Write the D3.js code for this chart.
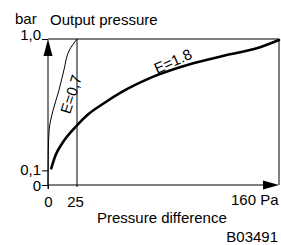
<!DOCTYPE html>
<html>
<head>
<meta charset="utf-8">
<script src="https://cdn.jsdelivr.net/npm/d3@7"></script>
<style>
    body { margin: 0; background: #fff; }
    svg { display: block; font-family: "Liberation Sans", Arial, sans-serif; }
    text { fill: #000; }
</style>
</head>
<body>
<svg id="chart" width="281" height="245"></svg>
<script>
// Values (x in Pa, y in bar)
const xTicks = [0, 25, 160];
const xTickLabels = ["0", "25", "160 Pa"];
const yTicks = [0, 0.1, 1.0];
const yTickLabels = ["0", "0,1", "1,0"];

const curveLowX = [0, 0.3, 1.0, 4.3, 9.5, 13.8, 18.5, 25];
const curveLowY = [0, 0.24, 0.38, 0.51, 0.65, 0.79, 0.925, 1.0];

const curveHighX = [2.8, 6.6, 12.3, 23.9, 31.9, 43.0, 55.3, 76.0, 102.7, 125.0, 145.1, 160];
const curveHighY = [0.114, 0.205, 0.286, 0.399, 0.479, 0.560, 0.639, 0.742, 0.834, 0.890, 0.936, 0.993];

(function() {
    const svg = d3.select("#chart");

    // the x axis is drawn schematically, not to scale
    const x = d3.scaleLinear().domain([0, 25, 160]).range([48, 77, 279]);
    const y = d3.scaleLinear().domain([0, 1]).range([185, 39]);

    const g = svg.append("g")
        .attr("stroke", "#000")
        .attr("fill", "none");

    // frame: top line, right line, 25 Pa line
    g.append("line")
        .attr("x1", x(0)).attr("x2", x(160))
        .attr("y1", y(1)).attr("y2", y(1));
    g.append("line")
        .attr("x1", x(160)).attr("x2", x(160))
        .attr("y1", y(1)).attr("y2", y(0));
    g.append("line")
        .attr("x1", x(25)).attr("x2", x(25))
        .attr("y1", y(1)).attr("y2", y(0) + 2);

    // axes with arrows
    g.append("line")
        .attr("x1", x(0)).attr("x2", x(0))
        .attr("y1", y(0) + 4).attr("y2", y(1) + 10);
    g.append("line")
        .attr("x1", x(0)).attr("x2", x(160) - 10)
        .attr("y1", y(0)).attr("y2", y(0));

    svg.append("path")
        .attr("fill", "#000")
        .attr("d", "M" + x(0) + "," + y(1) + "l-4.5,17h9z");
    svg.append("path")
        .attr("fill", "#000")
        .attr("d", "M" + x(160) + "," + y(0) + "l-16,-4.5v9z");

    // y ticks
    const yAxis = svg.append("g")
        .attr("transform", "translate(" + x(0) + ",0)")
        .call(d3.axisLeft(y)
            .tickValues(yTicks)
            .tickSize(6)
            .tickPadding(1)
            .tickFormat((d, i) => yTickLabels[i]));
    yAxis.select(".domain").remove();
    yAxis.selectAll("text")
        .attr("font-size", 15)
        .attr("font-family", "Liberation Sans, Arial, sans-serif")
        .attr("dy", (d) => d === 1 ? "0.05em" : (d === 0 ? "0.38em" : "0.3em"));

    // x ticks
    const xAxis = svg.append("g")
        .attr("transform", "translate(0," + y(0) + ")")
        .call(d3.axisBottom(x)
            .tickValues(xTicks)
            .tickSize(4)
            .tickPadding(6)
            .tickFormat((d, i) => xTickLabels[i]));
    xAxis.select(".domain").remove();
    xAxis.selectAll(".tick line").filter((d) => d !== 0).remove();
    xAxis.selectAll("text")
        .attr("font-size", 15)
        .attr("font-family", "Liberation Sans, Arial, sans-serif")
        .attr("text-anchor", (d) => d === 160 ? "end" : "middle")
        .attr("dx", (d) => d === 25 ? -2 : (d === 160 ? -1 : 0))
        .attr("dy", (d) => d === 160 ? "0.65em" : "0.77em");

    // curves
    const line = d3.line()
        .x((d) => x(d[0]))
        .y((d) => y(d[1]))
        .curve(d3.curveMonotoneY);

    svg.append("path")
        .datum(d3.zip(curveLowX, curveLowY))
        .attr("fill", "none")
        .attr("stroke", "#000")
        .attr("stroke-width", 1)
        .attr("d", line);

    svg.append("path")
        .datum(d3.zip(curveHighX, curveHighY))
        .attr("fill", "none")
        .attr("stroke", "#000")
        .attr("stroke-width", 2.6)
        .attr("stroke-linecap", "round")
        .attr("d", line.curve(d3.curveMonotoneX));

    // labels
    const labels = svg.append("g").attr("font-size", 15);

    labels.append("text").attr("x", 15).attr("y", 24).text("bar");
    labels.append("text").attr("x", 50).attr("y", 25).text("Output pressure");
    labels.append("text").attr("x", 97).attr("y", 223).text("Pressure difference");
    labels.append("text").attr("x", 278).attr("y", 242)
        .attr("text-anchor", "end").text("B03491");

    labels.append("text")
        .attr("transform", "translate(76,96) rotate(-72)")
        .attr("text-anchor", "middle")
        .text("E=0,7");

    labels.append("text")
        .attr("transform", "translate(175,66) rotate(-24)")
        .attr("text-anchor", "middle")
        .text("E=1.8");
})();
</script>
</body>
</html>
